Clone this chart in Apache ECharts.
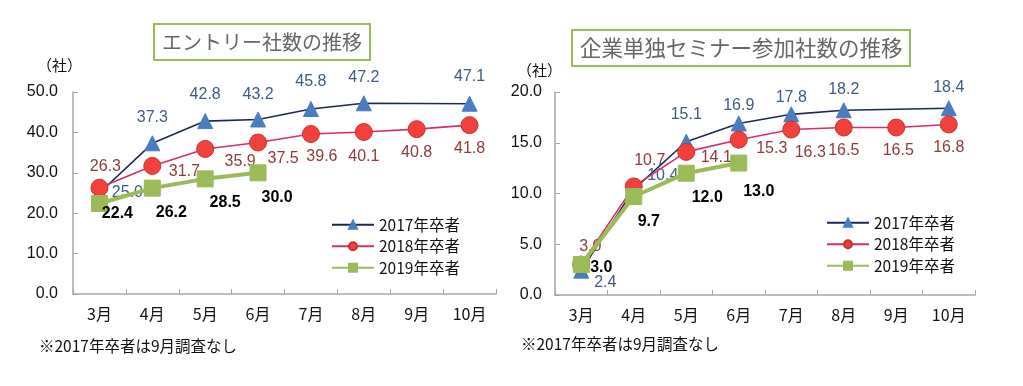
<!DOCTYPE html>
<html>
<head>
<meta charset="utf-8">
<script src="https://cdn.jsdelivr.net/npm/echarts@6/dist/echarts.min.js"></script>
<style>
html,body{margin:0;padding:0;background:#fff;}
#c{width:1023px;height:386px;}
</style>
</head>
<body>
<div id="c"></div>
<script>
// ---- data ----
const months = ['3月','4月','5月','6月','7月','8月','9月','10月'];
const seriesNames = ['2017年卒者','2018年卒者','2019年卒者'];
const leftTitle = 'エントリー社数の推移';
const rightTitle = '企業単独セミナー参加社数の推移';
const unitLabel = '（社）';
const footnote = '※2017年卒者は9月調査なし';

const entry2017 = [25.0, 37.3, 42.8, 43.2, 45.8, 47.2, null, 47.1];
const entry2018 = [26.3, 31.7, 35.9, 37.5, 39.6, 40.1, 40.8, 41.8];
const entry2019 = [22.4, 26.2, 28.5, 30.0];

const seminar2017 = [2.4, 10.4, 15.1, 16.9, 17.8, 18.2, null, 18.4];
const seminar2018 = [3.0, 10.7, 14.1, 15.3, 16.3, 16.5, 16.5, 16.8];
const seminar2019 = [3.0, 9.7, 12.0, 13.0];

// ---- label offsets (layout only) ----
const offE17 = [[28,0],[0,-26],[0,-26],[0,-25],[0,-27],[0,-26],[0,0],[0,-27]];
const offE18 = [[6,-21],[32,6],[35,13],[25,16],[11,23],[0,25],[0,23],[0,23]];
const offE19 = [[18,10],[19,24],[20,24],[19,25]];
const offS17 = [[24,12],[29,-14],[0,-27],[0,-18],[0,-17],[0,-21],[0,0],[0,-21]];
const offS18 = [[9,-18],[16,-26],[30,6],[33,9],[19,23],[0,23],[2,23],[0,23]];
const offS19 = [[20,3],[15,25],[21,24],[20,29]];

const FONT = '"Liberation Sans", Arial, "Noto Sans CJK JP", sans-serif';
const CJK = '"Noto Sans CJK JP", "Liberation Sans", sans-serif';

function mk(vals, offs){
  return vals.map((v,i)=> v==null ? null : {value:v, label:{offset:offs[i]}});
}

const styles = [
  {line:'#1b2a52', width:1.6, symbol:'triangle', size:15, fill:'#4a7cc0', border:'#4a7cc0', lab:'#3c5c86', bold:'normal'},
  {line:'#d42e6c', width:1.6, symbol:'circle', size:17, fill:'#f2403c', border:'#c8332f', lab:'#8f3b38', bold:'normal'},
  {line:'#9bbb59', width:4, symbol:'rect', size:16, fill:'#9bbb59', border:'#9bbb59', lab:'#000000', bold:'bold'}
];

function ser(k, data, offs, axis){
  const s = styles[k];
  return {
    name: seriesNames[k], type:'line', xAxisIndex:axis, yAxisIndex:axis,
    data: mk(data, offs), connectNulls:true,
    symbol:s.symbol, symbolSize:s.size,
    lineStyle:{color:s.line, width:s.width},
    itemStyle:{color:s.fill, borderColor:s.border, borderWidth:1},
    label:{show:true, position:'inside', color:s.lab, fontSize:16, fontWeight:s.bold, fontFamily:FONT,
      formatter:p=>Number(p.value).toFixed(1)},
    emphasis:{disabled:true},
    z: 2+k
  };
}

function xAx(gi){
  return {type:'category', gridIndex:gi, data:months, boundaryGap:true,
    axisLine:{lineStyle:{color:'#a6a6a6', width:1.5}},
    axisTick:{show:true, inside:true, length:5, lineStyle:{color:'#a6a6a6'}},
    axisLabel:{color:'#111', fontSize:16, fontFamily:CJK, margin:12},
    splitLine:{show:false}};
}
function yAx(gi, max, interval, margin){
  return {type:'value', gridIndex:gi, min:0, max:max, interval:interval,
    axisLine:{show:true, lineStyle:{color:'#a6a6a6', width:1.5}},
    axisTick:{show:true, inside:true, length:5, lineStyle:{color:'#a6a6a6'}},
    axisLabel:{color:'#111', fontSize:16, fontFamily:FONT, margin:margin, formatter:v=>v.toFixed(1)},
    splitLine:{show:false}};
}

function legend(left, top){
  return {left:left, top:top, orient:'vertical', itemWidth:42, itemHeight:10, itemGap:6,
    data:seriesNames, textStyle:{fontSize:15.5, color:'#111', fontFamily:CJK}, selectedMode:false};
}

const chart = echarts.init(document.getElementById('c'), null, {renderer:'canvas'});
chart.setOption({
  backgroundColor:'#ffffff',
  animation:false,
  title:[
    {text:leftTitle, left:154, top:24, padding:[6,8],
      borderColor:'#9bbb59', borderWidth:2, backgroundColor:'#fff',
      textStyle:{color:'#666666', fontSize:20, fontWeight:'normal', fontFamily:CJK, lineHeight:24}},
    {text:rightTitle, left:572, top:30, padding:[6,8],
      borderColor:'#9bbb59', borderWidth:2, backgroundColor:'#fff',
      textStyle:{color:'#666666', fontSize:21.5, fontWeight:'normal', fontFamily:CJK, lineHeight:24}}
  ],
  legend:[legend(326, 212), legend(821, 210)],
  grid:[
    {left:73, top:92, width:423, height:202},
    {left:555, top:92, width:420, height:203}
  ],
  xAxis:[xAx(0), xAx(1)],
  yAxis:[yAx(0,50,10,15), yAx(1,20,5,13)],
  graphic:[
    {type:'text', left:37, top:58, style:{text:unitLabel, fill:'#111', font:'15px "Noto Sans CJK JP"'}},
    {type:'text', left:517, top:63, style:{text:unitLabel, fill:'#111', font:'15px "Noto Sans CJK JP"'}},
    {type:'text', left:39, top:338, style:{text:footnote, fill:'#111', font:'15.5px "Noto Sans CJK JP"'}},
    {type:'text', left:521, top:336, style:{text:footnote, fill:'#111', font:'15.5px "Noto Sans CJK JP"'}}
  ],
  series:[
    ser(0, entry2017, offE17, 0),
    ser(1, entry2018, offE18, 0),
    ser(2, entry2019, offE19, 0),
    ser(0, seminar2017, offS17, 1),
    ser(1, seminar2018, offS18, 1),
    ser(2, seminar2019, offS19, 1)
  ]
});
</script>
</body>
</html>
